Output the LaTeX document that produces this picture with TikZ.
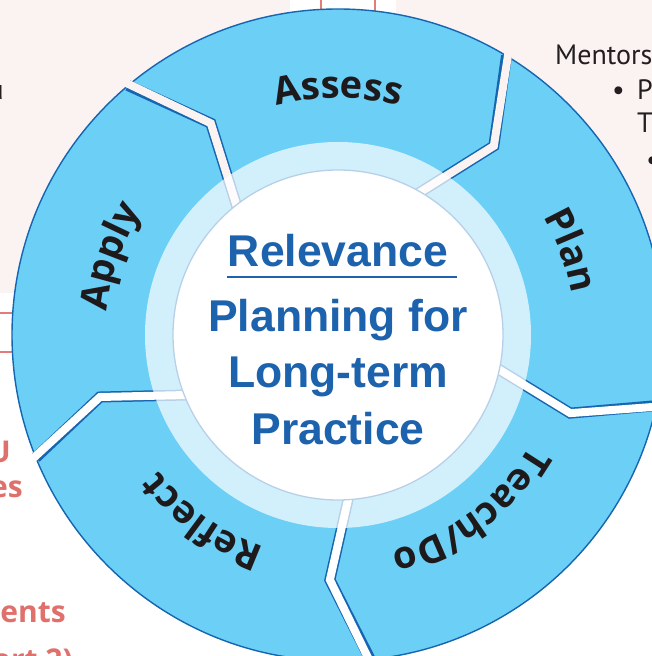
\documentclass[tikz,border=0pt]{standalone}
\usepackage{fontspec}
\setmainfont{Liberation Sans}
\newfontfamily\labelfamily{Open Sans}
\newfontfamily\sidefamily{PT Sans}
\usetikzlibrary{decorations.text}
\definecolor{bgpink}{HTML}{FBF2F2}
\definecolor{segfill}{HTML}{6BCFF6}
\definecolor{segline}{HTML}{1565B0}
\definecolor{ringline}{HTML}{B7D0E8}
\definecolor{titleblue}{HTML}{1C62AC}
\definecolor{labelcol}{HTML}{1E1A1B}
\definecolor{redline}{HTML}{E27C78}
\definecolor{redtext}{HTML}{E0706B}
\definecolor{sidetext}{HTML}{231F20}
\newcommand\seglabelfont{\labelfamily\bfseries\fontsize{38}{38}\selectfont}
\begin{document}
\begin{tikzpicture}[x=1pt,y=1pt,
  titletext/.style={text=titleblue, font=\bfseries\fontsize{44.5}{44.5}\selectfont, inner sep=0pt, anchor=base},
  sidetxt/.style={text=sidetext, font=\sidefamily\fontsize{28}{28}\selectfont, inner sep=0pt},
  redtxt/.style={text=redtext, font=\labelfamily\bfseries\fontsize{30}{30}\selectfont, inner sep=0pt, anchor=base east},
  redrule/.style={draw=redline, line width=2pt},
  gapedge/.style={draw=segline, line width=11pt, line join=miter, miter limit=10},
  gapcut/.style={line width=8pt, line join=miter, miter limit=10},
  seglabel/.style={decorate, decoration={text along path, text align=center, text color=labelcol, text={|\seglabelfont|#1}}}
]
\useasboundingbox (0,0) rectangle (652,656);
% page background pieces
\fill[bgpink] (0,363) rectangle (290,656);
\fill[bgpink] (396,330) rectangle (652,656);
\coordinate (v1a) at (321,656); \coordinate (v1b) at (321,630);
\coordinate (v2a) at (375,656); \coordinate (v2b) at (375,630);
\coordinate (h1a) at (0,343); \coordinate (h1b) at (40,343);
\coordinate (h2a) at (0,304); \coordinate (h2b) at (40,304);
\draw[redrule] (v1a) -- (v1b);
\draw[redrule] (v2a) -- (v2b);
\draw[redrule] (h1a) -- (h1b);
\draw[redrule] (h2a) -- (h2b);
% side texts
\node[sidetxt, anchor=base west] (ment) at (555,591) {Mentors};
\node[sidetxt, anchor=base west] (bul1) at (612,556) {•};
\node[sidetxt, anchor=base west] (pp) at (637,556) {P};
\node[sidetxt, anchor=base west] (tt) at (637,523) {T};
\node[sidetxt, anchor=base west] (bul2) at (646,486) {•};
\node[sidetxt, anchor=base east] (uu) at (4,556) {u};
\node[redtxt] (r1) at (11,193) {U};
\node[redtxt] (r2) at (23,158) {es};
\node[redtxt] (r3) at (66,33) {ents};
\node[redtxt] (r4) at (73,-14) {art 2)};
% wheel
\coordinate (C) at (338,321);
\fill[segfill] (C) circle (326);
\draw[segline, line width=1.4pt] (C) circle (326);
\foreach \o/\k/\kr/\i/\bg in {130.1/121/247/128.7/bgpink, 58.9/50.5/245/61/bgpink, -12.5/-18.6/245/-11.5/white, -84.3/-91.9/245/-86/white, -157.9/-165.4/246/-158/white} {
  \draw[gapedge] ([shift={(C)}]\o:326.3) -- ([shift={(C)}]\k:\kr) -- ([shift={(C)}]\i:160);
  \draw[gapcut, draw=\bg] ([shift={(C)}]\o:330) -- ([shift={(C)}]\k:\kr) -- ([shift={(C)}]\i:160);
}
% light ring and centre
\fill[white, opacity=0.7] (C) circle (193);
\fill[white] (C) circle (165);
\draw[ringline, line width=1.3pt] (C) circle (165);
% centre text
\node[titletext] (rel) at (338,389) {Relevance};
\coordinate (ul1) at (227,379); \coordinate (ul2) at (457,379);
\draw[titleblue, line width=1.2pt] (ul1) -- (ul2);
\node[titletext] (plan1) at (338,324) {Planning for};
\node[titletext] (plan2) at (338,268) {Long-term};
\node[titletext] (plan3) at (338,211) {Practice};
% segment labels
\path[seglabel={Assess}] ([shift={(C)}]130:237) arc[start angle=130, end angle=50, radius=237];
\path[seglabel={Plan}] ([shift={(C)}]60:237) arc[start angle=60, end angle=-20, radius=237];
\path[seglabel={Teach/Do}] ([shift={(C)}]-9:222) arc[start angle=-9, end angle=-97, radius=222];
\path[seglabel={Reflect}] ([shift={(C)}]-84:225) arc[start angle=-84, end angle=-168, radius=225];
\path[seglabel={Apply}] ([shift={(C)}]201:232) arc[start angle=201, end angle=121, radius=232];
\end{tikzpicture}
\end{document}
